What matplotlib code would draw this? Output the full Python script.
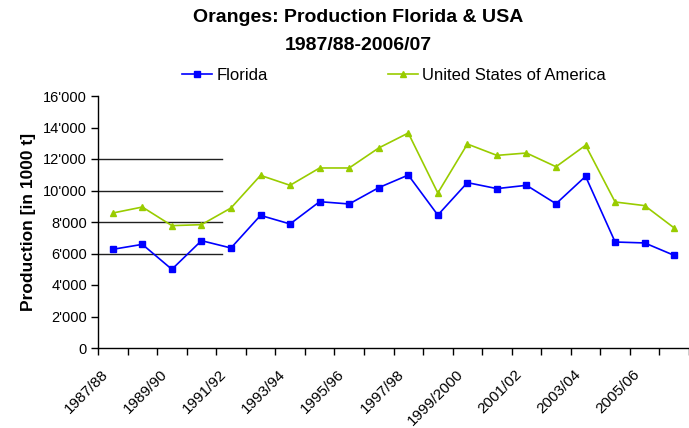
import numpy as np
import matplotlib
matplotlib.use("Agg")
import matplotlib.pyplot as plt
import matplotlib.transforms as mtransforms
from matplotlib.ticker import FuncFormatter

plt.rcParams["font.family"] = ["Liberation Sans", "DejaVu Sans"]

# Saisons 1987/88 .. 2006/07
seasons = ["1987/88", "1988/89", "1989/90", "1990/91", "1991/92", "1992/93",
           "1993/94", "1994/95", "1995/96", "1996/97", "1997/98", "1998/99",
           "1999/2000", "2000/01", "2001/02", "2002/03", "2003/04", "2004/05",
           "2005/06", "2006/07"]
# Produktion in 1000 t
florida = [6265, 6580, 4995, 6815, 6350, 8420, 7875, 9290, 9145, 10180,
           10980, 8440, 10500, 10120, 10330, 9160, 10900, 6730, 6670, 5880]
usa = [8570, 8950, 7770, 7830, 8890, 10960, 10330, 11430, 11430, 12700,
       13650, 9840, 12950, 12230, 12380, 11510, 12870, 9270, 9040, 7620]
# kurze Hilfslinien links im Diagramm
stub_levels = [6000, 8000, 10000, 12000]

BLUE, GREEN = "#0000ff", "#99cc00"

fig = plt.figure(figsize=(6.89, 4.28), dpi=100)
ax = fig.add_axes([98 / 689, 1 - 348 / 428, 1 - 98 / 689, (348 - 96) / 428])

x = np.arange(len(seasons))
ax.plot(x, florida, color=BLUE, lw=1.2, marker="s", ms=4, label="Florida")
ax.plot(x, usa, color=GREEN, lw=1.2, marker="^", ms=4.8, label="United States of America")

for lv in stub_levels:
    ax.axhline(lv, xmin=0, xmax=(222 - 98) / (689 - 98), color="#202020", lw=1, zorder=1)

ax.set_xlim(-0.5, len(seasons) - 0.5)
ax.set_ylim(0, 16000)
ax.set_yticks(np.arange(0, 16001, 2000))
ax.yaxis.set_major_formatter(FuncFormatter(lambda v, p: f"{int(v):,}".replace(",", "'")))

# Tickstriche an den Kategoriegrenzen, Beschriftung nur jede zweite Saison
bounds = np.arange(-0.5, len(seasons), 1)
ax.set_xticks(bounds)
ax.set_xticklabels([])
trans = mtransforms.blended_transform_factory(ax.transData, ax.transAxes) + \
    mtransforms.ScaledTranslation(13 / 100, -19 / 100, fig.dpi_scale_trans)
for i in range(0, len(seasons), 2):
    ax.text(i - 0.5, 0, seasons[i], transform=trans, rotation=45, ha="right", va="top",
            fontsize=11, clip_on=False)

ax.tick_params(axis="both", direction="out", length=5, width=1, color="black", labelsize=10.5)
ax.tick_params(axis="y", pad=3)
for s in ["top", "right"]:
    ax.spines[s].set_visible(False)
for s in ["left", "bottom"]:
    ax.spines[s].set_color("black")
    ax.spines[s].set_linewidth(1)

ax.set_ylabel("Production [in 1000 t]", fontsize=12.5, fontweight="bold", labelpad=5)

fig.text(358 / 689, 1 - 18 / 428, "Oranges: Production Florida & USA", ha="center", va="center",
         fontsize=14, fontweight="bold")
fig.text(358 / 689, 1 - 45 / 428, "1987/88-2006/07", ha="center", va="center",
         fontsize=14, fontweight="bold")

fig.legend(loc="center left", bbox_to_anchor=(182 / 689, 1 - 75 / 428), ncol=2, frameon=False,
           fontsize=12, handlelength=1.8, handletextpad=0.25, columnspacing=7.2,
           borderaxespad=0, borderpad=0)

fig.savefig("out.png", dpi=100, facecolor="white")
